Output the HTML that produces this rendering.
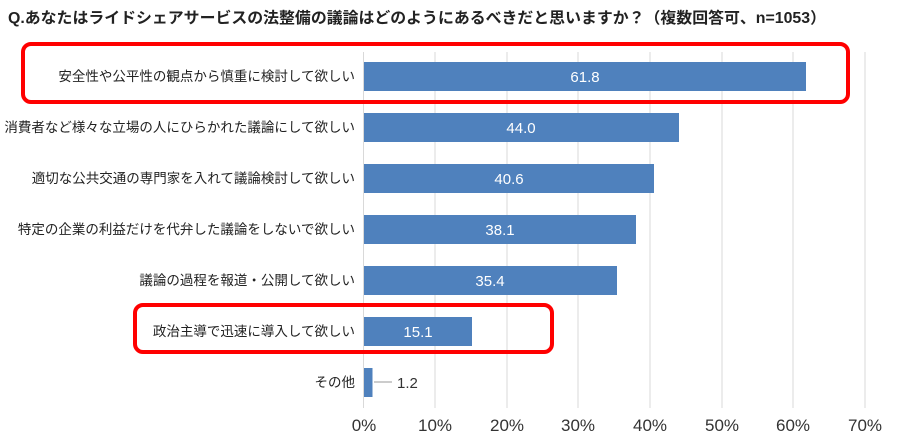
<!DOCTYPE html><html><head><meta charset="utf-8"><style>body{margin:0;background:#fff}</style></head><body>
<svg width="902" height="437" xmlns="http://www.w3.org/2000/svg" font-family="Liberation Sans, Noto Sans CJK JP, sans-serif">
<text x="8" y="23" font-size="15.5" font-weight="bold" fill="#222" textLength="818" lengthAdjust="spacingAndGlyphs">Q.あなたはライドシェアサービスの法整備の議論はどのようにあるべきだと思いますか？（複数回答可、n=1053）</text>
<g stroke="#d9d9d9" stroke-width="1">
<line x1="435" y1="52" x2="435" y2="408"/><line x1="507" y1="52" x2="507" y2="408"/><line x1="578" y1="52" x2="578" y2="408"/><line x1="650" y1="52" x2="650" y2="408"/><line x1="722" y1="52" x2="722" y2="408"/><line x1="793" y1="52" x2="793" y2="408"/><line x1="865" y1="52" x2="865" y2="408"/>
<line x1="363.5" y1="52" x2="363.5" y2="408"/>
</g>
<g fill="#4f81bd">
<rect x="364" y="62" width="442" height="29"/>
<rect x="364" y="113" width="315" height="29"/>
<rect x="364" y="164" width="290" height="29"/>
<rect x="364" y="215" width="272" height="29"/>
<rect x="364" y="266" width="253" height="29"/>
<rect x="364" y="317" width="108" height="29"/>
<rect x="364" y="368" width="8.5" height="29"/>
</g>
<g fill="#fff" font-size="15" text-anchor="middle">
<text x="585" y="82">61.8</text><text x="521" y="133">44.0</text><text x="509" y="184">40.6</text><text x="500" y="235">38.1</text><text x="490" y="286">35.4</text><text x="418" y="337">15.1</text>
</g>
<line x1="374" y1="382" x2="392" y2="382" stroke="#999"/>
<text x="397" y="388" font-size="15" fill="#333">1.2</text>
<g font-size="13.5" fill="#222" text-anchor="end">
<text x="355" y="81">安全性や公平性の観点から慎重に検討して欲しい</text>
<text x="355" y="132">消費者など様々な立場の人にひらかれた議論にして欲しい</text>
<text x="355" y="183">適切な公共交通の専門家を入れて議論検討して欲しい</text>
<text x="355" y="234">特定の企業の利益だけを代弁した議論をしないで欲しい</text>
<text x="355" y="285">議論の過程を報道・公開して欲しい</text>
<text x="355" y="336">政治主導で迅速に導入して欲しい</text>
<text x="355" y="387">その他</text>
</g>
<g font-size="17" fill="#333" text-anchor="middle">
<text x="364" y="431">0%</text><text x="435" y="431">10%</text><text x="507" y="431">20%</text><text x="578" y="431">30%</text><text x="650" y="431">40%</text><text x="722" y="431">50%</text><text x="793" y="431">60%</text><text x="865" y="431">70%</text>
</g>
<rect x="23" y="44" width="825" height="58" rx="8" fill="none" stroke="#f00" stroke-width="4"/>
<rect x="135" y="305" width="417" height="47" rx="8" fill="none" stroke="#f00" stroke-width="4"/>
</svg>
</body></html>
